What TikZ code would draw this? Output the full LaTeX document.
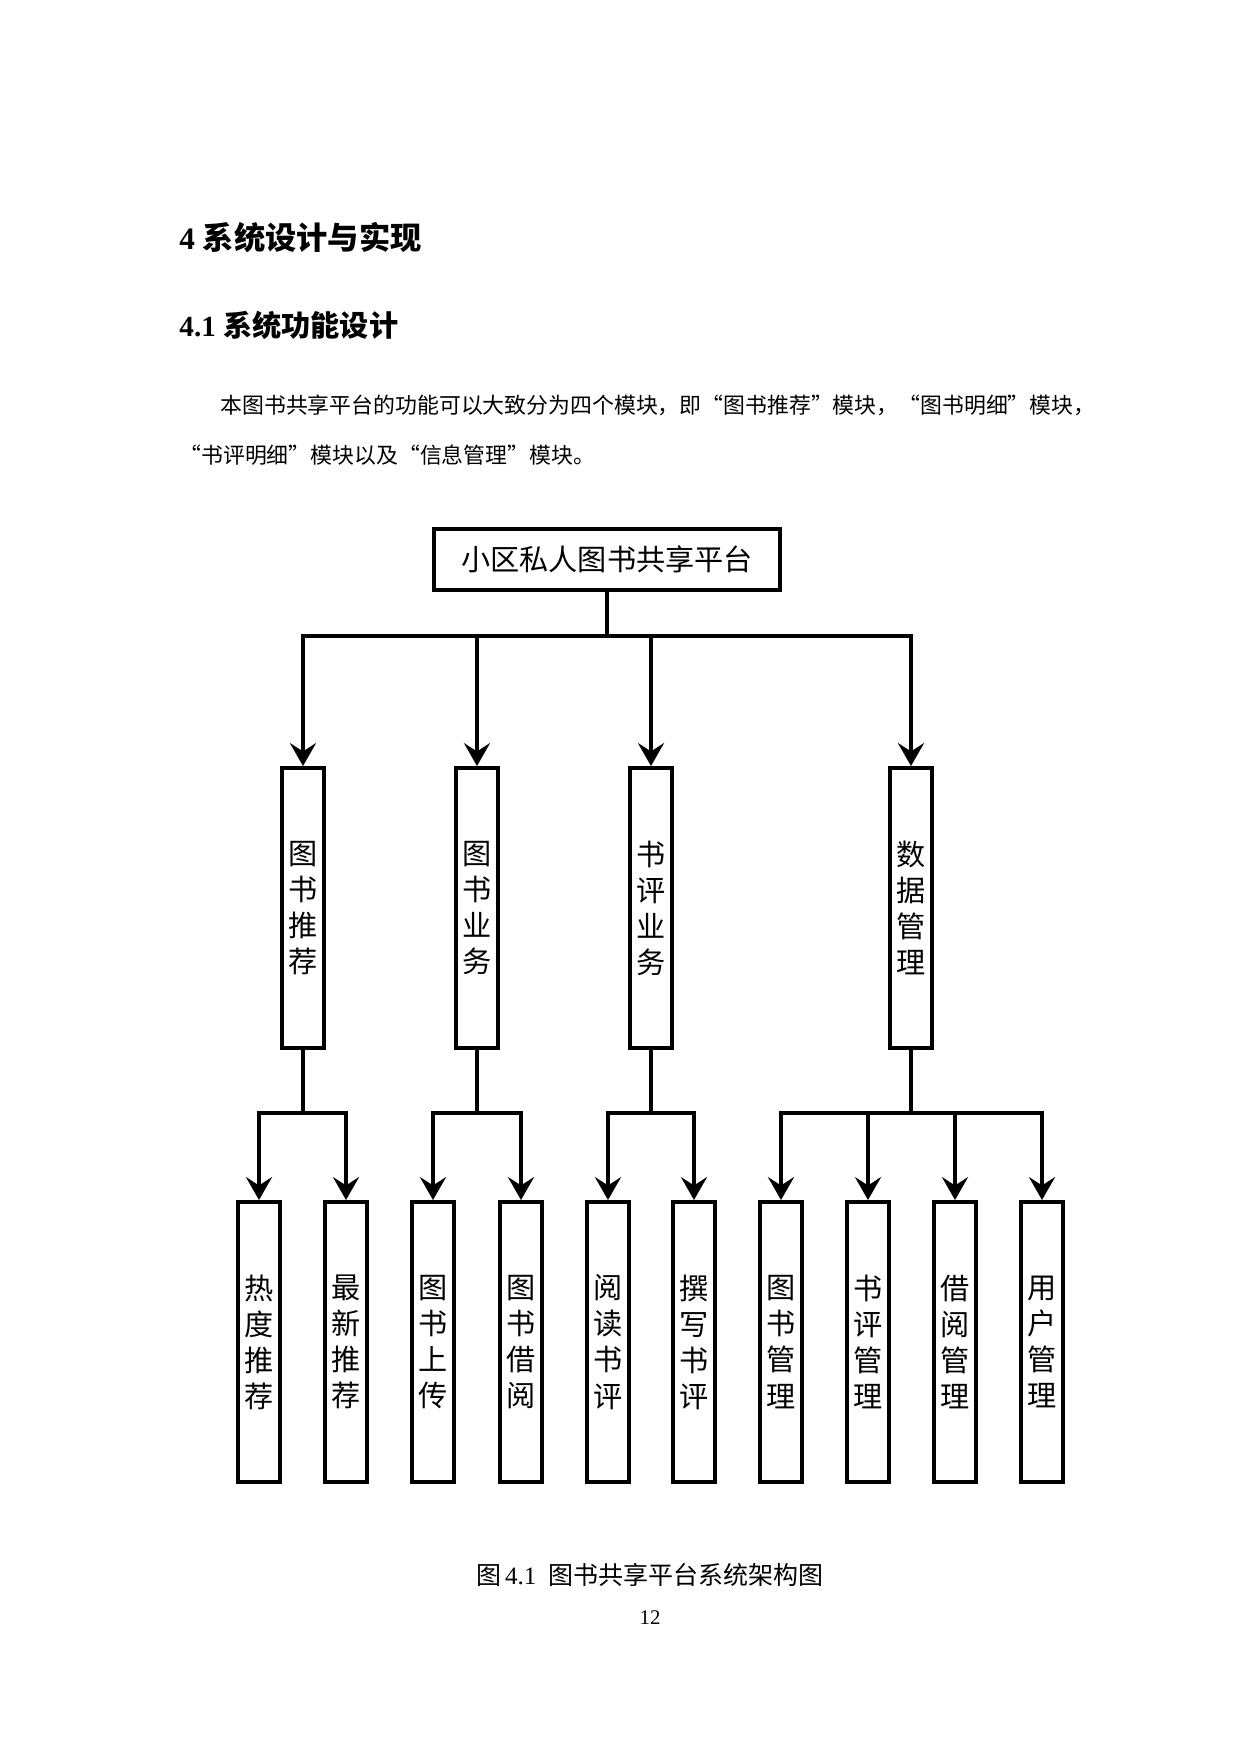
\documentclass[tikz,border=0pt]{standalone}
\usepackage{fontspec}
\setmainfont{Liberation Serif}
\newfontfamily\cjk{Noto Sans CJK SC}
\usetikzlibrary{arrows.meta}
\usetikzlibrary{positioning}

\begin{document}
\begin{tikzpicture}[x=0.48pt,y=-0.48pt]
        \tikzset{root_box/.style = {draw,line width=1.9pt,minimum width=166pt,minimum height=29.3pt,inner sep=0pt,font=\cjk\fontsize{14pt}{17pt}\selectfont}}
        \tikzset{mod_box/.style = {draw,line width=1.9pt,minimum width=20.6pt,minimum height=134.4pt,inner sep=0pt,align=center,font=\cjk\fontsize{14pt}{17.3pt}\selectfont}}
        \tikzset{tree_line/.style = {line width=1.9pt}}
        \tikzset{tree_arrow/.style = {-{Stealth[length=11pt,width=12.5pt,inset=4pt]},line width=1.9pt}}
        \tikzset{body_text/.style = {anchor=west,inner sep=0pt,font=\cjk\fontsize{10.5pt}{12pt}\selectfont}}

        \useasboundingbox[fill=white] (0,0) rectangle (1240,1754);

        % page text
        \node[anchor=west,inner sep=0pt,font=\fontsize{15pt}{18pt}\selectfont\bfseries] (h1) at (179,238) {4 {\cjk\bfseries 系统设计与实现}};
        \node[anchor=west,inner sep=0pt,font=\fontsize{14pt}{17pt}\selectfont\bfseries] (h2) at (179,325) {4.1 {\cjk\bfseries 系统功能设计}};
        \node[body_text] (p1) at (220,405) {本图书共享平台的功能可以大致分为四个模块，即“图书推荐”模块，“图书明细”模块，};
        \node[body_text] (p2) at (179,455) {“书评明细”模块以及“信息管理”模块。};

        % tree
        \node[root_box] (plat) at (607,559.5) {小区私人图书共享平台};
        \node[mod_box] (rec) at (303,908) {图\\书\\推\\荐}; \node[mod_box] (biz) at (477,908) {图\\书\\业\\务};
        \node[mod_box] (rev) at (651,908) {书\\评\\业\\务}; \node[mod_box] (dat) at (911,908) {数\\据\\管\\理};
        \node[mod_box] (hot) at (259,1342) {热\\度\\推\\荐}; \node[mod_box] (new) at (346,1342) {最\\新\\推\\荐};
        \node[mod_box] (upl) at (433,1342) {图\\书\\上\\传}; \node[mod_box] (brw) at (521,1342) {图\\书\\借\\阅};
        \node[mod_box] (rdr) at (608,1342) {阅\\读\\书\\评}; \node[mod_box] (wrt) at (694,1342) {撰\\写\\书\\评};
        \node[mod_box] (bkm) at (781,1342) {图\\书\\管\\理}; \node[mod_box] (rvm) at (868,1342) {书\\评\\管\\理};
        \node[mod_box] (lnm) at (955,1342) {借\\阅\\管\\理}; \node[mod_box] (usm) at (1042,1342) {用\\户\\管\\理};

        \coordinate (j0) at (607,636);
        \coordinate (j1) at (303,1113); \coordinate (j2) at (477,1113); \coordinate (j3) at (651,1113); \coordinate (j4) at (911,1113);

        \draw[tree_line] (plat.south) -- (j0);
        \draw[tree_arrow] (j0) -| (rec.north); \draw[tree_arrow] (j0) -| (biz.north); \draw[tree_arrow] (j0) -| (rev.north); \draw[tree_arrow] (j0) -| (dat.north);
        \draw[tree_line] (rec.south) -- (j1); \draw[tree_arrow] (j1) -| (hot.north); \draw[tree_arrow] (j1) -| (new.north);
        \draw[tree_line] (biz.south) -- (j2); \draw[tree_arrow] (j2) -| (upl.north); \draw[tree_arrow] (j2) -| (brw.north);
        \draw[tree_line] (rev.south) -- (j3); \draw[tree_arrow] (j3) -| (rdr.north); \draw[tree_arrow] (j3) -| (wrt.north);
        \draw[tree_line] (dat.south) -- (j4); \draw[tree_arrow] (j4) -| (bkm.north); \draw[tree_arrow] (j4) -| (rvm.north);
        \draw[tree_arrow] (j4) -| (lnm.north); \draw[tree_arrow] (j4) -| (usm.north);

        % caption
        \node[inner sep=0pt,font=\fontsize{12pt}{14pt}\selectfont] (cap) at (650,1575) {{\cjk 图}\,4.1\enspace{\cjk 图书共享平台系统架构图}};
        \node[inner sep=0pt,font=\fontsize{10pt}{12pt}\selectfont] (pg) at (650,1618) {12};
    \end{tikzpicture}
\end{document}
